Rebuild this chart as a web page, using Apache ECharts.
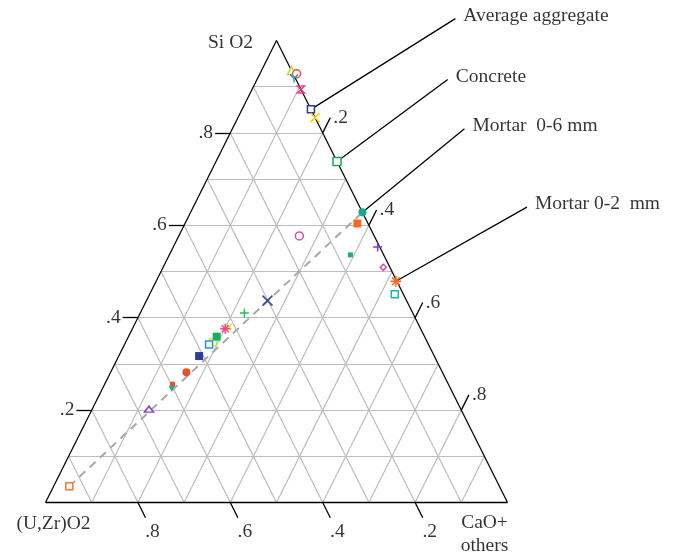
<!DOCTYPE html>
<html>
<head>
<meta charset="utf-8">
<script src="https://cdn.jsdelivr.net/npm/echarts@6/dist/echarts.min.js"></script>
<style>
  html, body { margin: 0; padding: 0; background: #fff; }
  #chart { width: 675px; height: 556px; }
</style>
</head>
<body>
<div id="chart"></div>
<script>
// sample compositions as fractions, (U,Zr)O2 = 1 - SiO2 - CaO
const sio2 = [0.935, 0.928, 0.918, 0.894, 0.851, 0.833, 0.738, 0.628, 0.604, 0.577,
  0.536, 0.553, 0.509, 0.479, 0.451, 0.437, 0.410, 0.380, 0.376, 0.347,
  0.359, 0.342, 0.317, 0.282, 0.256, 0.246, 0.202, 0.035];
const cao = [0.065, 0.0795, 0.079, 0.106, 0.149, 0.167, 0.262, 0.372, 0.373, 0.261,
  0.392, 0.4425, 0.4766, 0.519, 0.5305, 0.262, 0.2255, 0.207, 0.201, 0.189,
  0.191, 0.183, 0.174, 0.164, 0.147, 0.150, 0.123, 0.034];

// mixing line: from the (U,Zr)O2 rich sample to mortar 0-6 mm
const mixFrom = 27;
const mixTo = 7;

const gridSteps = [0.1, 0.2, 0.3, 0.4, 0.5, 0.6, 0.7, 0.8, 0.9];
const ticks = [0.2, 0.4, 0.6, 0.8];
const tickLabels = ['.2', '.4', '.6', '.8'];

const calloutText = ['Average aggregate', 'Concrete', 'Mortar  0-6 mm', 'Mortar 0-2  mm'];
const calloutSample = [4, 6, 7, 13];

// ---- layout / styles ----
const calloutOffset = [[0.3126, 0.1963], [0.2396, 0.1775], [0.2208, 0.1812], [0.2835, 0.1602]];
const X = 'path://M0,0L10,10M10,0L0,10';
const PLUS = 'path://M5,0L5,10M0,5L10,5';
const STAR = 'path://M5,0L5,10M0,5L10,5M1.5,1.5L8.5,8.5M8.5,1.5L1.5,8.5';
const Y3 = 'path://M5,5L5,10M5,5L0,0M5,5L10,0';
const HOUR = 'path://M0,0L10,0L0,10L10,10Z';
const markers = [
  { sym: 'triangle', size: 8, color: '#c5d63a', open: true },
  { sym: 'circle', size: 8, color: '#e9552b', open: true },
  { sym: Y3, size: 8, color: '#2e9bd6', stroke: true },
  { sym: HOUR, size: 7, color: '#ea3f7c', stroke: true },
  { sym: 'rect', size: 7, color: '#2b3990', open: true },
  { sym: X, size: 9, color: '#f2d20a', stroke: true },
  { sym: 'rect', size: 8, color: '#18a95a', open: true },
  { sym: 'circle', size: 8, color: '#17a98c' },
  { sym: 'rect', size: 8, color: '#f26b22' },
  { sym: 'circle', size: 8, color: '#d44fb4', open: true },
  { sym: 'rect', size: 5, color: '#1fae8c' },
  { sym: PLUS, size: 9, color: '#7e3fc4', stroke: true },
  { sym: 'diamond', size: 6, color: '#d44fb4', open: true },
  { sym: STAR, size: 11, color: '#f26b22', stroke: true },
  { sym: 'rect', size: 7, color: '#1cb5b5', open: true },
  { sym: X, size: 10, color: '#3c4b9e', stroke: true },
  { sym: PLUS, size: 9, color: '#2fbf48', stroke: true },
  { sym: X, size: 6, color: '#f0dc20', stroke: true },
  { sym: STAR, size: 10, color: '#f04a85', stroke: true },
  { sym: 'rect', size: 7, color: '#cde246', open: true },
  { sym: 'rect', size: 8, color: '#16b05e' },
  { sym: 'rect', size: 7, color: '#2196d3', open: true },
  { sym: 'rect', size: 8, color: '#2c3c9a' },
  { sym: 'circle', size: 8, color: '#ea4e23' },
  { sym: 'rect', size: 5, color: '#ea4e23' },
  { sym: 'triangle', size: 6, color: '#14b08f', rotate: 180 },
  { sym: 'triangle', size: [9, 6], color: '#8745c6', open: true },
  { sym: 'rect', size: 7, color: '#f07a36', open: true }
];

const FONT = "'Liberation Serif', 'Times New Roman', serif";

function tern(s, c) { return [c + s / 2, s]; }

// grid lines of the triangle
const gridLines = [];
gridSteps.forEach(function (f) {
  gridLines.push({ coords: [tern(f, 0), tern(f, 1 - f)] });
  gridLines.push({ coords: [tern(0, f), tern(1 - f, f)] });
  gridLines.push({ coords: [tern(0, 1 - f), tern(1 - f, 0)] });
});

const outline = [
  { coords: [tern(1, 0), tern(0, 0)] },
  { coords: [tern(0, 0), tern(0, 1)] },
  { coords: [tern(0, 1), tern(1, 0)] }
];

const TL = 0.033;
const tickLines = [];
const leftLab = [], rightLab = [], bottomLab = [];
ticks.forEach(function (t, i) {
  const l0 = tern(t, 0), l1 = [l0[0] - TL, l0[1]];
  tickLines.push({ coords: [l0, l1] });
  leftLab.push({ value: l1, name: tickLabels[i] });
  const r0 = tern(1 - t, t), r1 = tern(1 - t + TL, t);
  tickLines.push({ coords: [r0, r1] });
  rightLab.push({ value: r1, name: tickLabels[i] });
  const b0 = tern(0, 1 - t), b1 = tern(-TL, 1 - t + TL);
  tickLines.push({ coords: [b0, b1] });
  bottomLab.push({ value: b1, name: tickLabels[i] });
});

const points = sio2.map(function (s, i) {
  const m = markers[i];
  const it = {
    value: tern(s, cao[i]),
    symbol: m.sym,
    symbolSize: m.size,
    symbolRotate: m.rotate || 0
  };
  if (m.stroke) it.itemStyle = { color: 'rgba(0,0,0,0)', borderColor: m.color, borderWidth: 1.5, opacity: 1 };
  else if (m.open) it.itemStyle = { color: '#fff', borderColor: m.color, borderWidth: 1.5, opacity: 1 };
  else it.itemStyle = { color: m.color, opacity: 1 };
  return it;
});

const calloutLines = [], calloutLab = [];
calloutSample.forEach(function (k, i) {
  const p = tern(sio2[k], cao[k]);
  const e = [p[0] + calloutOffset[i][0], p[1] + calloutOffset[i][1]];
  calloutLines.push({ coords: [p, e] });
  calloutLab.push({ value: e, name: calloutText[i] });
});

const txt = { color: '#000', fontFamily: FONT, fontSize: 19.5 };

function labelSeries(data, label) {
  return {
    type: 'scatter', symbolSize: 0, z: 6, silent: true, clip: false,
    label: Object.assign({ show: true, formatter: '{b}' }, txt, label),
    data: data
  };
}

const chart = echarts.init(document.getElementById('chart'));
chart.setOption({
  animation: false,
  grid: { left: 45.5, top: 40.5, width: 462, height: 462 },
  xAxis: { type: 'value', min: 0, max: 1, show: false },
  yAxis: { type: 'value', min: 0, max: 1, show: false },
  series: [
    {
      type: 'lines', coordinateSystem: 'cartesian2d', silent: true, z: 1,
      lineStyle: { color: '#bdbdbd', width: 1.2, opacity: 1 },
      data: gridLines
    },
    {
      type: 'lines', coordinateSystem: 'cartesian2d', silent: true, z: 2, clip: false,
      lineStyle: { color: '#000', width: 1.3, opacity: 1 },
      data: outline.concat(tickLines, calloutLines)
    },
    {
      type: 'lines', coordinateSystem: 'cartesian2d', silent: true, z: 3,
      lineStyle: { color: '#a8a8a8', width: 2, type: [8, 6], opacity: 1 },
      data: [{ coords: [tern(sio2[mixFrom], cao[mixFrom]), tern(sio2[mixTo], cao[mixTo])] }]
    },
    {
      type: 'scatter', z: 5, clip: false,
      data: points
    },
    labelSeries(leftLab, { position: 'left', distance: 2 }),
    labelSeries(rightLab, { position: 'right', distance: 3 }),
    labelSeries(bottomLab, { position: 'inside', offset: [7, 14] }),
    labelSeries(calloutLab, { position: 'right', distance: 8, offset: [0, -3] }),
    labelSeries([
      { value: tern(1, 0), name: 'Si O2', label: { offset: [-46, 2.5] } },
      { value: tern(0, 0), name: '(U,Zr)O2', label: { offset: [8, 21] } },
      { value: tern(0, 1), name: 'CaO+\nothers', label: { offset: [-23, 32] } }
    ], { position: 'inside', lineHeight: 23 })
  ]
});
</script>
</body>
</html>
